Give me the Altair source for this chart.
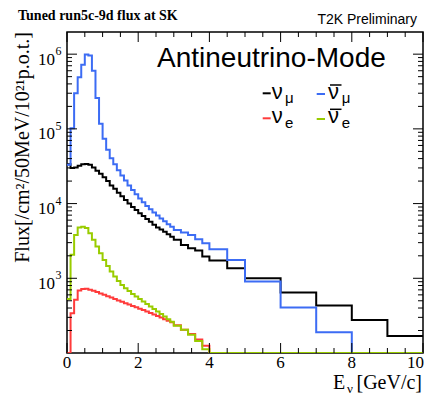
import altair as alt
import pandas as pd

# ---- data ----
energy_edges = [0.0, 0.1, 0.2, 0.3, 0.4, 0.5, 0.6, 0.7, 0.8, 0.9, 1.0, 1.1, 1.2, 1.3, 1.4,
                1.5, 1.6, 1.7, 1.8, 1.9, 2.0, 2.1, 2.2, 2.3, 2.4, 2.5, 2.6, 2.7, 2.8, 2.9,
                3.0, 3.2, 3.4, 3.6, 3.8, 4.0, 4.5, 5.0, 6.0, 7.0, 8.0, 9.0, 10.0]

flux_numu = [33500, 30000, 30500, 32000, 33500, 34000, 33000, 30500, 27500, 25000,
             22500, 20000, 17500, 15800, 14000, 12500, 11200, 10000, 9000, 8200,
             7400, 6800, 6200, 5700, 5200, 4800, 4500, 4200, 3900, 3600,
             3270, 2800, 2530, 2350, 1955, 1726, 1365, 1003, 644, 431, 277, 169]

flux_numubar = [33000, 102000, 300000, 490000, 720000, 990000, 960000, 600000, 258000, 117000,
                73500, 52500, 40500, 33500, 28000, 23800, 20300, 17500, 15200, 13300,
                11700, 10400, 9300, 8400, 7600, 6900, 6300, 5800, 5300, 4900,
                4440, 4090, 3810, 3335, 2950, 2454, 1762, 903, 405, 190, 0, 0]

flux_nue = [0, 340, 515, 685, 720, 725, 705, 680, 655, 625,
            600, 575, 552, 530, 505, 485, 465, 445, 425, 410,
            392, 375, 358, 342, 328, 312, 298, 283, 270, 258,
            235, 205, 180, 152, 125, 0, 0, 0, 0, 0, 0, 0]

flux_nuebar = [530, 2060, 3800, 4800, 4900, 4700, 4000, 3270, 2660, 2170,
               1760, 1465, 1230, 1055, 922, 816, 736, 678, 618, 569,
               530, 488, 454, 418, 389, 358, 333, 307, 283, 263,
               231, 204, 175, 145, 112, 0, 0, 0, 0, 0, 0, 0]

x_major = [0, 2, 4, 6, 8, 10]
x_labels = ["0", "2", "4", "6", "8", "10"]
x_minor = [0.5, 1.0, 1.5, 2.5, 3.0, 3.5, 4.5, 5.0, 5.5, 6.5, 7.0, 7.5, 8.5, 9.0, 9.5]
y_decades = [1000, 10000, 100000, 1000000]
y_exponents = ["3", "4", "5", "6"]
y_minor = [200, 300, 400, 500, 600, 700, 800, 900,
           2000, 3000, 4000, 5000, 6000, 7000, 8000, 9000,
           20000, 30000, 40000, 50000, 60000, 70000, 80000, 90000,
           200000, 300000, 400000, 500000, 600000, 700000, 800000, 900000]

YMIN, YMAX = 100, 1.98e6
W, H = 356, 321
SERIF = "Liberation Serif"
SANS = "Liberation Sans"

XS = alt.Scale(domain=[0, 10], nice=False, zero=False)
YS = alt.Scale(type="log", domain=[YMIN, YMAX], nice=False)


def hist_table(vals):
    rows = []
    for e, v in zip(energy_edges[:-1], vals):
        rows.append({"E": e, "flux": max(v, YMIN)})   # empty bins drawn on the axis
    rows.append({"E": energy_edges[-1], "flux": max(vals[-1], YMIN)})
    return pd.DataFrame(rows)


def hist_layer(vals, color):
    return alt.Chart(hist_table(vals)).mark_line(
        interpolate="step-after", strokeWidth=2, color=color, clip=True
    ).encode(x=alt.X("E:Q", scale=XS, axis=None), y=alt.Y("flux:Q", scale=YS, axis=None))


layers = [
    hist_layer(flux_numu, "#000000"),
    hist_layer(flux_numubar, "#3c6cf4"),
    hist_layer(flux_nue, "#ff3b3b"),
    hist_layer(flux_nuebar, "#99cc00"),
]


def xticks(vals, length):
    d = pd.DataFrame({"t": vals})
    base = alt.Chart(d).mark_rule(color="black", strokeWidth=1)
    xe = alt.X("t:Q", scale=XS, axis=None)
    return [base.encode(x=xe, y=alt.value(H), y2=alt.value(H - length)),
            base.encode(x=xe, y=alt.value(0), y2=alt.value(length))]


def yticks(vals, length):
    d = pd.DataFrame({"t": vals})
    base = alt.Chart(d).mark_rule(color="black", strokeWidth=1)
    ye = alt.Y("t:Q", scale=YS, axis=None)
    return [base.encode(y=ye, x=alt.value(0), x2=alt.value(length)),
            base.encode(y=ye, x=alt.value(W), x2=alt.value(W - length))]


layers += xticks(x_major, 10) + xticks(x_minor, 5) + yticks(y_decades, 10) + yticks(y_minor, 5)

# x tick labels
xlab = pd.DataFrame({"v": x_major, "s": x_labels})
layers.append(alt.Chart(xlab[xlab.v < 10]).mark_text(
    font=SERIF, fontSize=17, align="center", baseline="alphabetic", color="black").encode(
    x=alt.X("v:Q", scale=XS, axis=None), y=alt.value(H + 15.3), text="s:N"))
layers.append(alt.Chart(xlab[xlab.v == 10]).mark_text(
    font=SERIF, fontSize=17, align="right", baseline="alphabetic", color="black", dx=1).encode(
    x=alt.X("v:Q", scale=XS, axis=None), y=alt.value(H + 15.3), text="s:N"))

# y tick labels 10^n
ylab = pd.DataFrame({"v": y_decades, "e": y_exponents, "b": ["10"] * 4})
layers.append(alt.Chart(ylab).mark_text(font=SERIF, fontSize=17, align="right",
                                        baseline="alphabetic", dy=10.5, color="black").encode(
    y=alt.Y("v:Q", scale=YS, axis=None), x=alt.value(-12), text="b:N"))
layers.append(alt.Chart(ylab).mark_text(font=SERIF, fontSize=12, align="left",
                                        baseline="alphabetic", dy=1, color="black").encode(
    y=alt.Y("v:Q", scale=YS, axis=None), x=alt.value(-11.5), text="e:N"))

ONE = pd.DataFrame({"a": [0]})


def txt(s, x, y, size, font, align="left", weight="normal", angle=0, color="black"):
    return alt.Chart(ONE).mark_text(text=s, fontSize=size, font=font, align=align,
                                    baseline="alphabetic", fontWeight=weight,
                                    angle=angle, color=color).encode(
        x=alt.value(x), y=alt.value(y))


def seg(x1, x2, y, color, width=2):
    return alt.Chart(ONE).mark_rule(color=color, strokeWidth=width).encode(
        x=alt.value(x1), x2=alt.value(x2), y=alt.value(y))


# titles & annotations
layers += [
    txt("Tuned run5c-9d flux at SK", -49, -12.5, 14, SERIF, weight="bold"),
    txt("T2K Preliminary", 350, -8, 14, SANS, align="right"),
    txt("Antineutrino-Mode", 90, 34.7, 28, SANS),
    txt("Flux[/cm²/50MeV/10²¹p.o.t.]", -38.5, 0, 20, SERIF, align="right", angle=270),
    txt("E", 266, 357, 20, SERIF),
    txt("ν", 280, 360.5, 13, SERIF),
    txt("[GeV/c]", 355, 357, 20, SERIF, align="right"),
]

# legend
layers += [
    seg(195.7, 203.7, 61.3, "#000000"),
    txt("ν", 204.7, 67.3, 22, SANS),
    txt("μ", 218, 71, 15, SANS),
    seg(249.7, 258, 62, "#3c6cf4"),
    txt("ν", 261, 67.3, 22, SANS),
    seg(263, 274.5, 53, "black", 1.5),
    txt("μ", 274.7, 71, 15, SANS),
    seg(195.7, 203.7, 86.3, "#ff3b3b"),
    txt("ν", 204.7, 91.3, 22, SANS),
    txt("e", 218, 96, 15, SANS),
    seg(249.7, 258, 87, "#99cc00"),
    txt("ν", 261, 91.3, 22, SANS),
    seg(263, 274.5, 77.3, "black", 1.5),
    txt("e", 274.7, 96, 15, SANS),
]

chart = alt.layer(*layers).properties(
    width=W, height=H,
    padding={"left": 59, "top": 24, "right": 1, "bottom": 42},
    autosize=alt.AutoSizeParams(type="none"),
    background="white",
).configure_view(stroke="black", strokeWidth=1.5)

chart.save("out.html", embed_options={"renderer": "svg", "actions": False})
